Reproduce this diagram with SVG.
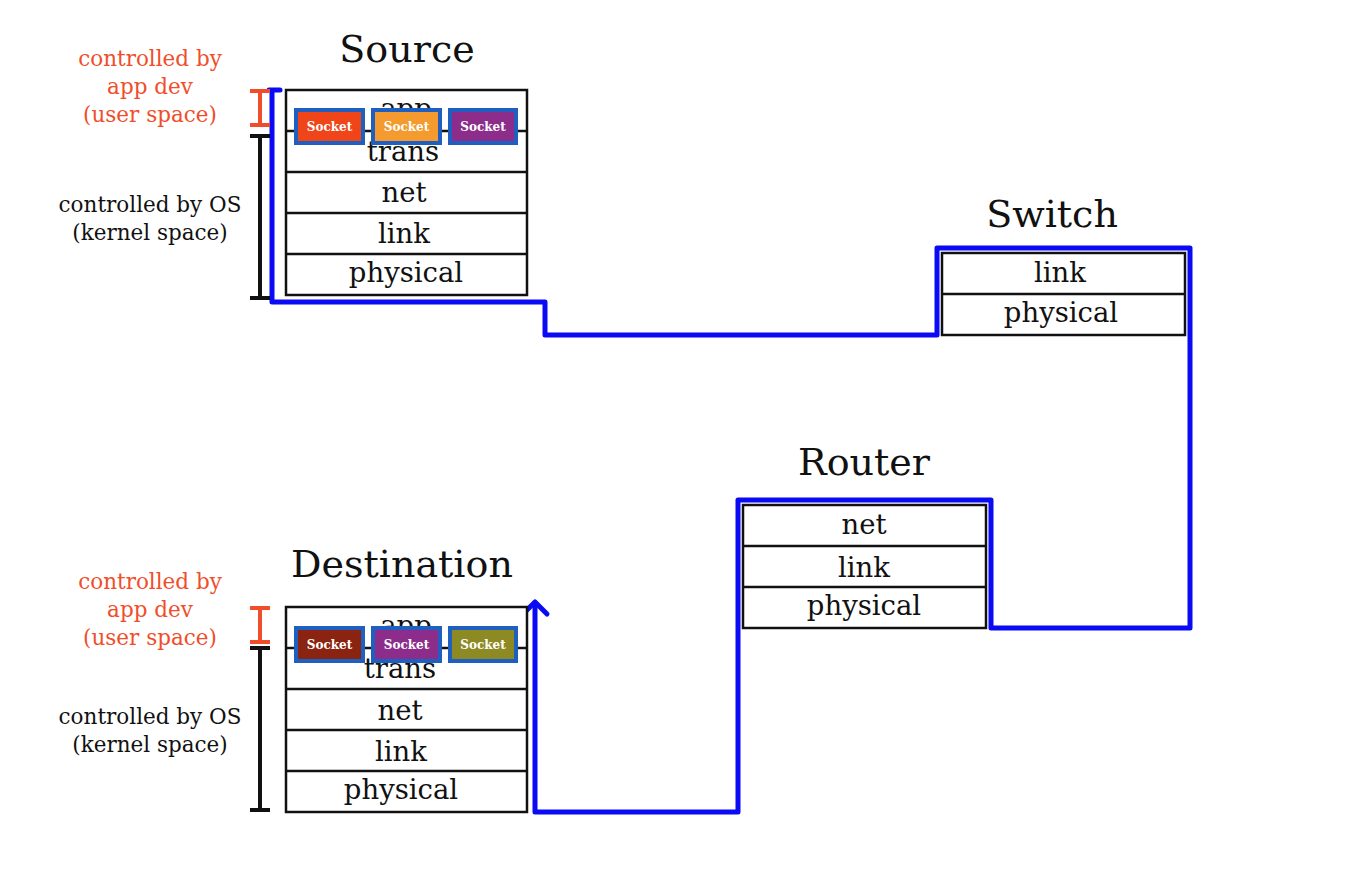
<svg xmlns="http://www.w3.org/2000/svg" width="1372" height="870" viewBox="0 0 1372 870">
<style>
.layer{fill:#fff;stroke:#111;stroke-width:2.5}
.sep{stroke:#111;stroke-width:2.5}
.lt{font-family:"DejaVu Serif","Liberation Serif",serif;font-size:27.5px;fill:#111;text-anchor:middle}
.title{font-family:"DejaVu Serif","Liberation Serif",serif;font-size:38px;fill:#111;text-anchor:middle}
.note{font-family:"DejaVu Serif","Liberation Serif",serif;font-size:21.5px;text-anchor:middle}
.red{fill:#F04E2A}
.blk{fill:#111}
.sock{stroke:#1F5FBF;stroke-width:4}
.st{font-family:"DejaVu Serif","Liberation Serif",serif;font-size:12px;font-weight:bold;fill:#fff;text-anchor:middle}
.br-red{stroke:#F04E2A;stroke-width:4;fill:none}
.br-blk{stroke:#111;stroke-width:4;fill:none}
.path{fill:none;stroke:#0A0AF5;stroke-width:5;stroke-linejoin:round;stroke-linecap:round}
</style>

<g id="connectors">
<path class="path" d="M269,90 H280 M272,90 V302 H545 V335 H937 V248 H1190 V628 H991 V500 H738 V812 H535 V603"/>
<path class="path" d="M523,614 L535,602 L547,614"/>
</g>

<g id="source">
<text class="title" x="407" y="62">Source</text>
<rect class="layer" x="286" y="90" width="241" height="205"/>
<line class="sep" x1="286" y1="131" x2="527" y2="131"/>
<line class="sep" x1="286" y1="172" x2="527" y2="172"/>
<line class="sep" x1="286" y1="213" x2="527" y2="213"/>
<line class="sep" x1="286" y1="254" x2="527" y2="254"/>
<text class="lt" x="406" y="118">app</text>
<text class="lt" x="403" y="161">trans</text>
<text class="lt" x="404" y="202">net</text>
<text class="lt" x="404" y="243">link</text>
<text class="lt" x="406" y="282">physical</text>
<rect class="sock" x="296" y="110" width="67" height="33" fill="#F04419"/>
<text class="st" x="329.5" y="131">Socket</text>
<rect class="sock" x="373" y="110" width="67" height="33" fill="#F49A2E"/>
<text class="st" x="406.5" y="131">Socket</text>
<rect class="sock" x="450" y="110" width="66" height="33" fill="#8C2D8C"/>
<text class="st" x="483" y="131">Socket</text>
</g>

<g id="source-notes">
<text class="note red" x="150" y="66">controlled by</text>
<text class="note red" x="150" y="94">app dev</text>
<text class="note red" x="150" y="122">(user space)</text>
<path class="br-red" d="M250,91 H270 M260,91 V125 M250,125 H270"/>
<text class="note blk" x="150" y="212">controlled by OS</text>
<text class="note blk" x="150" y="240">(kernel space)</text>
<path class="br-blk" d="M250,136 H270 M260,136 V298 M250,298 H270"/>
</g>

<g id="switch">
<text class="title" x="1052" y="227">Switch</text>
<rect class="layer" x="942" y="253" width="243" height="82"/>
<line class="sep" x1="942" y1="294" x2="1185" y2="294"/>
<text class="lt" x="1060" y="282">link</text>
<text class="lt" x="1061" y="322">physical</text>
</g>

<g id="router">
<text class="title" x="864" y="475">Router</text>
<rect class="layer" x="743" y="505" width="243" height="123"/>
<line class="sep" x1="743" y1="546" x2="986" y2="546"/>
<line class="sep" x1="743" y1="587" x2="986" y2="587"/>
<text class="lt" x="864" y="534">net</text>
<text class="lt" x="864" y="577">link</text>
<text class="lt" x="864" y="615">physical</text>
</g>

<g id="destination">
<text class="title" x="402" y="577">Destination</text>
<rect class="layer" x="286" y="607" width="241" height="205"/>
<line class="sep" x1="286" y1="648" x2="527" y2="648"/>
<line class="sep" x1="286" y1="689" x2="527" y2="689"/>
<line class="sep" x1="286" y1="730" x2="527" y2="730"/>
<line class="sep" x1="286" y1="771" x2="527" y2="771"/>
<text class="lt" x="406" y="635">app</text>
<text class="lt" x="400" y="678">trans</text>
<text class="lt" x="400" y="720">net</text>
<text class="lt" x="401" y="761">link</text>
<text class="lt" x="401" y="799">physical</text>
<rect class="sock" x="296" y="628" width="67" height="33" fill="#8A2310"/>
<text class="st" x="329.5" y="649">Socket</text>
<rect class="sock" x="373" y="628" width="67" height="33" fill="#8C2D8C"/>
<text class="st" x="406.5" y="649">Socket</text>
<rect class="sock" x="450" y="628" width="66" height="33" fill="#8E8A23"/>
<text class="st" x="483" y="649">Socket</text>
</g>

<g id="destination-notes">
<text class="note red" x="150" y="589">controlled by</text>
<text class="note red" x="150" y="617">app dev</text>
<text class="note red" x="150" y="645">(user space)</text>
<path class="br-red" d="M250,608 H270 M260,608 V642 M250,642 H270"/>
<text class="note blk" x="150" y="724">controlled by OS</text>
<text class="note blk" x="150" y="752">(kernel space)</text>
<path class="br-blk" d="M250,648 H270 M260,648 V810 M250,810 H270"/>
</g>
</svg>
